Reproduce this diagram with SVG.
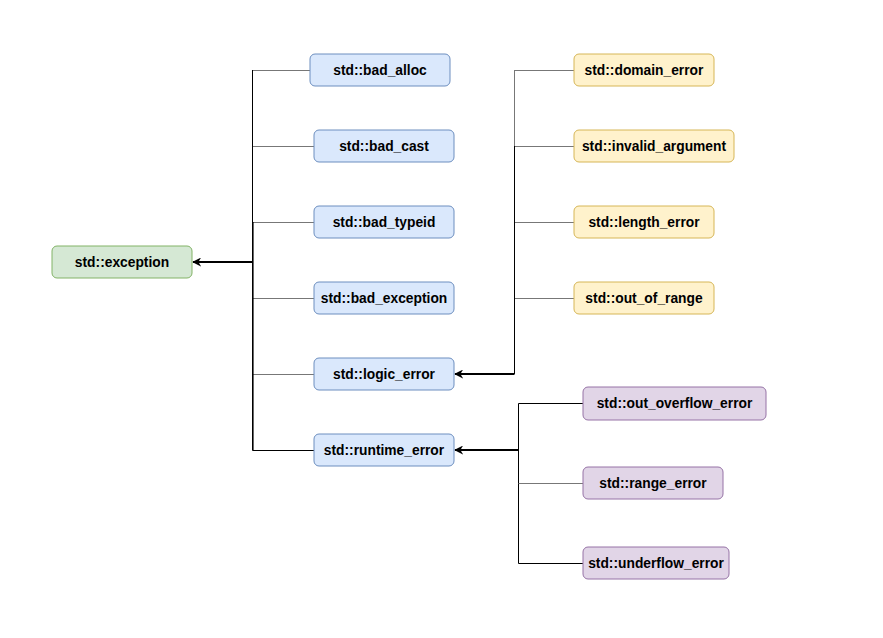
<svg xmlns="http://www.w3.org/2000/svg" width="883" height="638" viewBox="0 0 883 638">
<style>
.n rect{stroke-width:1}
.g rect{fill:#d5e8d4;stroke:#82b366}
.b rect{fill:#dae8fc;stroke:#6c8ebf}
.y rect{fill:#fff2cc;stroke:#d6b656}
.p rect{fill:#e1d5e7;stroke:#9673a6}
text{font-family:"Liberation Sans",Arial,sans-serif;font-weight:bold;font-size:13.8px;fill:#000;text-anchor:middle;dominant-baseline:central}
.thin{fill:none;stroke:#777;stroke-width:1}
.dark{fill:none;stroke:#000;stroke-width:1}
.arr{fill:none;stroke:#000;stroke-width:2;marker-end:url(#ah)}
</style>
<defs>
<marker id="ah" viewBox="0 0 10 10" refX="9" refY="5" markerWidth="4.5" markerHeight="4.5" orient="auto" markerUnits="strokeWidth">
<path d="M0,0 L10,5 L0,10 L3,5 Z" fill="#000"/>
</marker>
</defs>
<rect width="883" height="638" fill="#fff"/>
<g id="connectors">
<path class="thin" d="M310,70.5 H252.5 M314,146.5 H252.5 M314,222.5 H252.5 M314,298.5 H252.5 M314,374.5 H252.5"/>
<path class="dark" d="M314,450.5 H252.5 V70"/>
<path class="dark" d="M253.5,222 V450" stroke-opacity="0.6"/>
<path class="arr" d="M252.5,262 H193"/>
<path class="thin" d="M574,70.5 H514.5 M574,146.5 H514.5 M574,222.5 H514.5 M574,298.5 H514.5"/>
<path class="dark" d="M514.5,146 V374"/>
<path class="thin" d="M514.5,70 V146"/>
<path class="arr" d="M514.5,374 H455"/>
<path class="dark" d="M583,403.5 H518.5 V563.5 H583"/>
<path class="thin" d="M583,483.5 H518.5"/>
<path class="arr" d="M518.5,450 H455"/>
</g>
<g id="exception" class="n g"><rect x="52" y="246" width="140" height="32" rx="5"/><text x="122" y="262">std::exception</text></g>
<g id="bad_alloc" class="n b"><rect x="310" y="54" width="140" height="32" rx="5"/><text x="380" y="70">std::bad_alloc</text></g>
<g id="bad_cast" class="n b"><rect x="314" y="130" width="140" height="32" rx="5"/><text x="384" y="146">std::bad_cast</text></g>
<g id="bad_typeid" class="n b"><rect x="314" y="206" width="140" height="32" rx="5"/><text x="384" y="222">std::bad_typeid</text></g>
<g id="bad_exception" class="n b"><rect x="314" y="282" width="140" height="32" rx="5"/><text x="384" y="298">std::bad_exception</text></g>
<g id="logic_error" class="n b"><rect x="314" y="358" width="140" height="32" rx="5"/><text x="384" y="374">std::logic_error</text></g>
<g id="runtime_error" class="n b"><rect x="314" y="434" width="140" height="32" rx="5"/><text x="384" y="450">std::runtime_error</text></g>
<g id="domain_error" class="n y"><rect x="574" y="54" width="140" height="32" rx="5"/><text x="644" y="70">std::domain_error</text></g>
<g id="invalid_argument" class="n y"><rect x="574" y="130" width="160" height="32" rx="5"/><text x="654" y="146">std::invalid_argument</text></g>
<g id="length_error" class="n y"><rect x="574" y="206" width="140" height="32" rx="5"/><text x="644" y="222">std::length_error</text></g>
<g id="out_of_range" class="n y"><rect x="574" y="282" width="140" height="32" rx="5"/><text x="644" y="298">std::out_of_range</text></g>
<g id="out_overflow_error" class="n p"><rect x="583" y="387" width="183" height="33" rx="5"/><text x="674.5" y="403.5">std::out_overflow_error</text></g>
<g id="range_error" class="n p"><rect x="583" y="467" width="140" height="32" rx="5"/><text x="653" y="483">std::range_error</text></g>
<g id="underflow_error" class="n p"><rect x="583" y="547" width="146" height="32" rx="5"/><text x="656" y="563">std::underflow_error</text></g>
</svg>
